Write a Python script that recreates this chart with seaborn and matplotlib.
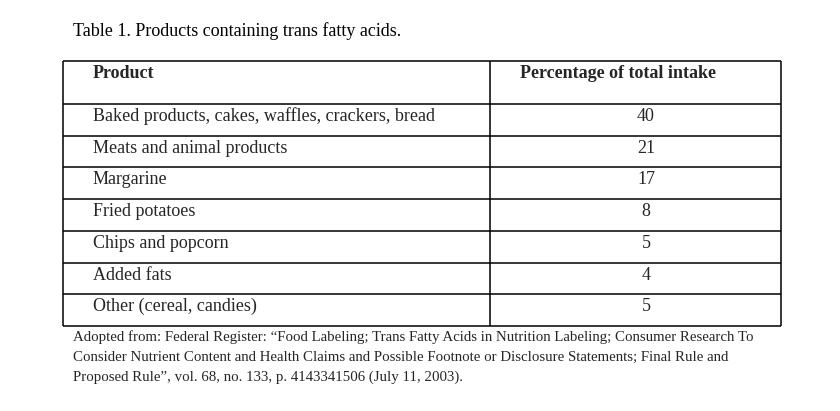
import numpy as np
import pandas as pd
import matplotlib.pyplot as plt
import seaborn as sns

title = "Table 1. Products containing trans fatty acids."
headers = ["Product", "Percentage of total intake"]
products = [
    "Baked products, cakes, waffles, crackers, bread",
    "Meats and animal products",
    "Margarine",
    "Fried potatoes",
    "Chips and popcorn",
    "Added fats",
    "Other (cereal, candies)",
]
percentages = [40, 21, 17, 8, 5, 4, 5]
footnote = [
    "Adopted from: Federal Register: \u201cFood Labeling; Trans Fatty Acids in Nutrition Labeling; Consumer Research To",
    "Consider Nutrient Content and Health Claims and Possible Footnote or Disclosure Statements; Final Rule and",
    "Proposed Rule\u201d, vol. 68, no. 133, p. 4143341506 (July 11, 2003).",
]

table = pd.DataFrame({headers[0]: products, headers[1]: percentages})

sns.set_theme(style="white")
plt.rcParams["font.family"] = ["Liberation Serif", "DejaVu Serif"]

W, H = 840, 411
fig = plt.figure(figsize=(W / 100, H / 100), dpi=100)
ax = fig.add_axes([0, 0, 1, 1])
ax.set_xlim(0, W)
ax.set_ylim(H, 0)
ax.axis("off")

# table frame (pixel layout)
left, split, right = 63, 490, 781
top, header_h, bottom = 61, 43, 326
row_h = (bottom - top - header_h) / len(table)
edges = top + header_h + np.arange(len(table) + 1) * row_h
edges = np.concatenate([[top], edges])
lw = 1.1

ax.hlines(edges, left, right, color="black", lw=lw)
ax.vlines([left, split, right], top, bottom, color="black", lw=lw)

fs = 13
ax.text(72.7, 35.7, title, fontsize=fs, va="baseline", ha="left", color="black")

ax.text(93, top + 17, headers[0], fontsize=fs, fontweight="bold", va="baseline")
ax.text(520, top + 17, headers[1], fontsize=fs, fontweight="bold", va="baseline")

for i, row in table.iterrows():
    y = edges[i + 1] + 17
    ax.text(93, y, row[headers[0]], fontsize=fs, va="baseline")
    ax.text(646, y, str(row[headers[1]]), fontsize=fs, va="baseline", ha="center")

for j, line in enumerate(footnote):
    ax.text(72.7, 340.7 + j * 20.2, line, fontsize=10.7, va="baseline")

fig.savefig("out.png", dpi=100)
